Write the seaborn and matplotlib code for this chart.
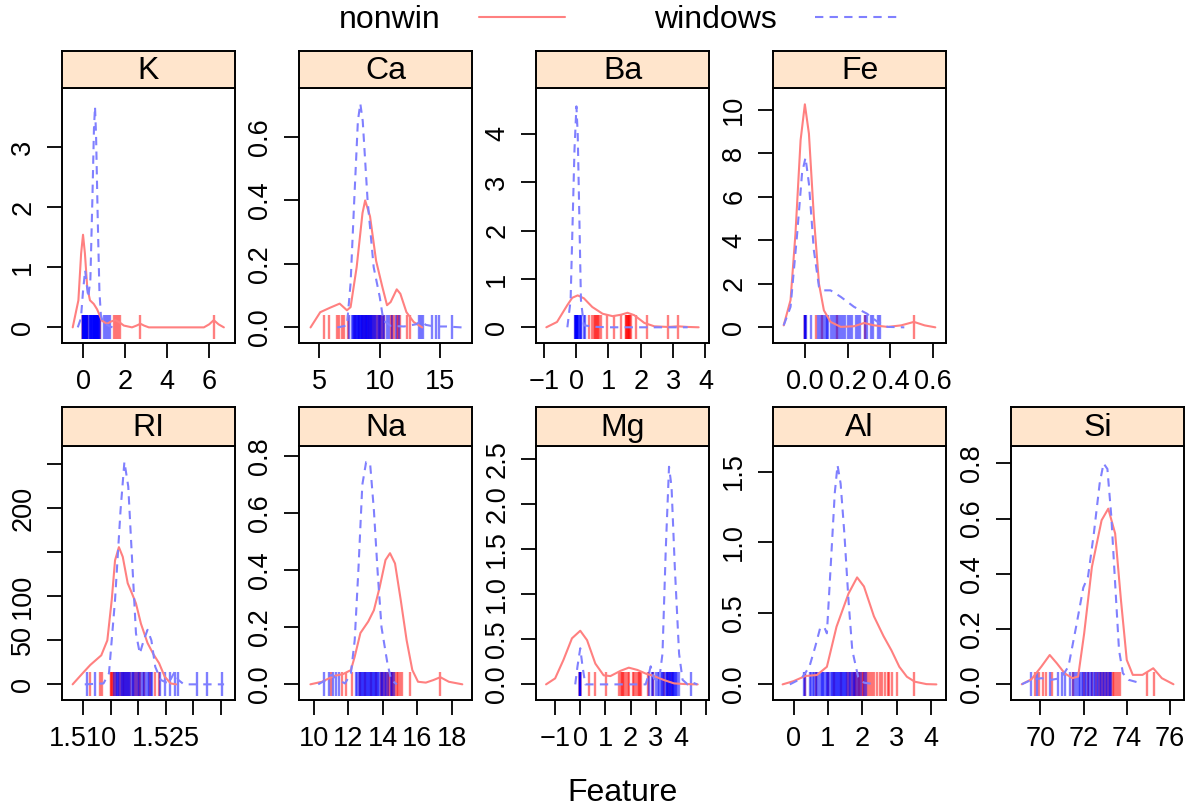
import numpy as np
import matplotlib
matplotlib.use("Agg")
import matplotlib.pyplot as plt
import seaborn as sns
from matplotlib.lines import Line2D

# density curves (x, density) and rug positions per class
K_x_nw = [-0.49, -0.22, -0.09, 0.0, 0.09, 0.2, 0.33, 0.51, 0.67, 0.9, 1.14, 1.35, 1.54, 1.75, 1.94, 2.33, 2.55, 2.73, 2.9, 3.13, 4.0, 5.0, 5.75, 6.0, 6.22, 6.45, 6.7]
K_y_nw = [0, 0.45, 1.23, 1.54, 1.23, 0.67, 0.45, 0.39, 0.3, 0.11, 0.06, 0.1, 0.12, 0.08, 0.03, 0.0, 0.03, 0.06, 0.03, 0.0, 0, 0, 0, 0.05, 0.12, 0.05, 0]
K_x_win = [-0.25, -0.1, 0.0, 0.1, 0.18, 0.25, 0.35, 0.45, 0.52, 0.57, 0.62, 0.7, 0.78, 0.85, 0.95, 1.1, 1.25, 1.4]
K_y_win = [0, 0.15, 0.6, 0.95, 0.7, 0.5, 0.8, 2.2, 3.3, 3.67, 3.2, 1.8, 0.6, 0.2, 0.08, 0.05, 0.02, 0]
K_rug_nw = [0.0, 0.0, 0.0, 0.03, 0.06, 0.08, 0.1, 0.12, 0.14, 0.17, 0.2, 0.6, 0.64, 0.67, 0.83, 1.46, 1.57, 1.68, 1.76, 2.7, 6.21]
K_rug_win = [-0.02, 0.0, 0.0, 0.02, 0.03, 0.05, 0.06, 0.08, 0.09, 0.1, 0.12, 0.13, 0.15, 0.16, 0.18, 0.19, 0.21,
             0.3, 0.32, 0.34, 0.36, 0.38, 0.4, 0.42, 0.44, 0.46, 0.48, 0.5, 0.51, 0.53, 0.54, 0.56, 0.57, 0.58,
             0.6, 0.61, 0.62, 0.64, 0.65, 0.66, 0.68, 0.69, 0.71, 0.73, 0.75, 0.77, 0.8, 1.0, 1.1, 1.19, 1.27]

Ca_x_nw = [4.3, 5.1, 5.9, 6.7, 7.3, 7.6, 8.1, 8.58, 8.8, 9.2, 9.7, 10.2, 10.6, 10.9, 11.4, 11.7, 12.2, 12.8, 13.5]
Ca_y_nw = [0, 0.048, 0.062, 0.075, 0.054, 0.064, 0.19, 0.36, 0.40, 0.35, 0.21, 0.13, 0.07, 0.08, 0.12, 0.106, 0.048, 0.017, 0]
Ca_x_win = [6.5, 7.3, 7.6, 7.9, 8.2, 8.4, 8.6, 9.0, 9.5, 10.0, 10.3, 10.9, 12.0, 13.0, 13.4, 13.8, 14.5, 15.5, 16.8]
Ca_y_win = [0, 0.006, 0.14, 0.40, 0.65, 0.705, 0.65, 0.40, 0.19, 0.096, 0.022, 0.005, 0.003, 0.01, 0.02, 0.008, 0.003, 0.003, 0]
Ca_rug_nw = [5.43, 5.79, 6.47, 6.65, 6.93, 7.08, 7.4, 8.0, 8.3, 8.5, 8.65, 8.8, 8.9, 9.0, 9.15, 9.3, 9.45, 9.6, 9.75, 9.9,
             10.05, 10.2, 10.35, 10.9, 11.05, 11.2, 11.4, 11.5, 11.65, 12.26, 12.53]
Ca_rug_win = [7.5, 7.74, 7.8, 7.86, 7.92, 7.98, 8.03, 8.08, 8.13, 8.18, 8.23, 8.28, 8.33, 8.38, 8.43, 8.48, 8.53, 8.58,
              8.63, 8.68, 8.73, 8.78, 8.83, 8.88, 8.93, 8.98, 9.03, 9.08, 9.14, 9.2, 9.26, 9.32, 9.38, 9.46, 9.55,
              9.64, 9.73, 9.82, 9.92, 10.02, 10.12, 10.24, 10.34, 10.6, 10.8, 11.0, 11.3, 11.6, 13.2, 13.4, 13.6,
              14.3, 14.6, 14.86, 15.96]

Ba_x_nw = [-0.92, -0.59, -0.27, -0.12, 0.05, 0.24, 0.5, 0.82, 1.13, 1.39, 1.59, 1.8, 2.11, 2.42, 2.84, 3.15, 3.46, 3.79]
Ba_y_nw = [0, 0.11, 0.46, 0.61, 0.66, 0.6, 0.42, 0.28, 0.23, 0.26, 0.30, 0.25, 0.09, 0.02, 0.007, 0.02, 0.007, 0]
Ba_x_win = [-0.27, -0.17, -0.09, -0.05, 0.01, 0.05, 0.1, 0.15, 0.24, 0.6, 1.0, 1.6, 2.2, 2.8, 3.15, 3.45]
Ba_y_win = [0, 0.56, 2.64, 3.67, 4.57, 4.0, 2.29, 0.56, 0.04, 0.01, 0.0, 0.0, 0.0, 0.0, 0.0, 0]
Ba_rug_nw = [0.0, 0.0, 0.39, 0.48, 0.54, 0.57, 0.61, 0.64, 0.67, 0.71, 0.76, 0.96, 1.17, 1.38, 1.53, 1.55, 1.57, 1.59,
             1.61, 1.63, 1.64, 1.67, 1.69, 1.85, 2.2, 2.83, 3.15]
Ba_rug_win = [-0.02, -0.015, -0.01, -0.005, 0.0, 0.0, 0.005, 0.01, 0.015, 0.02, 0.03, 0.04, 0.06, 0.09, 0.11, 0.14, 0.15, 0.24, 0.27]

Fe_x_nw = [-0.099, -0.067, -0.044, -0.02, 0, 0.019, 0.042, 0.066, 0.089, 0.12, 0.168, 0.23, 0.277, 0.324, 0.387, 0.45, 0.51, 0.56, 0.61]
Fe_y_nw = [0.09, 1.25, 4.3, 8.6, 10.25, 8.9, 5.1, 2.0, 0.78, 0.25, 0.02, 0.05, 0.2, 0.09, 0.02, 0.09, 0.25, 0.09, 0]
Fe_x_win = [-0.099, -0.067, -0.036, -0.013, 0.003, 0.019, 0.042, 0.066, 0.089, 0.12, 0.168, 0.23, 0.29, 0.34, 0.387, 0.465]
Fe_y_win = [0.09, 0.94, 4.3, 7.1, 7.8, 6.6, 3.55, 1.86, 1.7, 1.7, 1.4, 0.94, 0.63, 0.25, 0.02, 0]
Fe_rug_nw = [0.0, 0.0, 0.05, 0.08, 0.15, 0.28, 0.51]
Fe_rug_win = [0.0, 0.0, 0.0, 0.003, 0.03, 0.06, 0.07, 0.08, 0.09, 0.1, 0.105, 0.11, 0.12, 0.13, 0.14, 0.15, 0.16, 0.17,
              0.18, 0.19, 0.2, 0.21, 0.22, 0.24, 0.25, 0.26, 0.28, 0.29, 0.31, 0.32, 0.34, 0.35]

RI_x_nw = [1.5081, 1.5099, 1.5113, 1.5133, 1.5144, 1.5152, 1.5158, 1.5165, 1.5172, 1.5181, 1.5189, 1.5196, 1.5205,
           1.5217, 1.5227, 1.5238, 1.5248, 1.5259, 1.5269]
RI_y_nw = [0, 12.5, 22, 33, 50, 96, 141, 156, 145, 115, 103, 92, 69, 47, 35, 24, 9, 1, 0]
RI_x_win = [1.5103, 1.5137, 1.5147, 1.5158, 1.5168, 1.5175, 1.5182, 1.5189, 1.5196, 1.5203, 1.5210, 1.5217, 1.5224,
            1.5231, 1.5241, 1.5255, 1.5266, 1.5273, 1.5283, 1.5300, 1.5330, 1.5356]
RI_y_win = [0, 1, 12.5, 96, 198, 253, 225, 141, 58, 35, 50, 62, 50, 20, 5, 1, 14, 5, 0, 0, 0, 0]
RI_rug_nw = [1.51131, 1.51299, 1.51340, 1.51502, 1.51514, 1.51531, 1.51545, 1.51556, 1.5160, 1.5165, 1.5169, 1.5172,
             1.5175, 1.5178, 1.5181, 1.5185, 1.5190, 1.5194, 1.5198, 1.5201, 1.5204, 1.5210, 1.5222, 1.5231, 1.5237]
RI_rug_win = [1.5107, 1.5122, 1.5156, 1.5159, 1.5162, 1.5164, 1.5166, 1.5168, 1.5170, 1.5172, 1.5174, 1.5176, 1.5178,
              1.5180, 1.5182, 1.5184, 1.5186, 1.5188, 1.5190, 1.5193, 1.5196, 1.5199, 1.5202, 1.5205, 1.5208, 1.5211,
              1.5214, 1.5217, 1.5220, 1.5223, 1.5225, 1.5240, 1.5249, 1.5258, 1.5267, 1.5273, 1.5306, 1.5325, 1.5352]

Na_x_nw = [9.82, 10.49, 11.16, 11.71, 12.16, 12.38, 12.71, 13.16, 13.49, 13.82, 14.16, 14.42, 14.71, 15.04, 15.38,
           15.71, 16.04, 16.49, 16.93, 17.33, 17.82, 18.6]
Na_y_nw = [0, 0.009, 0.029, 0.036, 0.05, 0.097, 0.18, 0.22, 0.26, 0.34, 0.436, 0.46, 0.424, 0.296, 0.155, 0.05,
           0.009, 0.006, 0.015, 0.025, 0.009, 0]
Na_x_win = [10.27, 10.71, 11.04, 11.38, 11.82, 12.16, 12.38, 12.6, 12.82, 13.04, 13.27, 13.49, 13.71, 13.93, 14.27, 14.49, 14.82]
Na_y_win = [0, 0.015, 0.033, 0.018, 0.003, 0.039, 0.155, 0.41, 0.70, 0.78, 0.775, 0.61, 0.39, 0.20, 0.074, 0.015, 0]
Na_rug_nw = [11.03, 11.67, 11.87, 12.25, 12.7, 13.0, 13.3, 13.6, 13.88, 13.98, 14.1, 14.2, 14.3, 14.38, 14.45, 14.52,
             14.6, 14.7, 14.8, 14.9, 15.0, 15.13, 15.6, 17.29]
Na_rug_win = [10.62, 10.9, 11.1, 11.29, 11.45, 12.44, 12.52, 12.6, 12.66, 12.72, 12.78, 12.84, 12.9, 12.96, 13.02,
              13.08, 13.14, 13.2, 13.26, 13.32, 13.38, 13.44, 13.5, 13.56, 13.62, 13.68, 13.74, 13.8, 13.88, 13.96,
              14.04, 14.12, 14.2, 14.32, 14.45, 14.56, 14.65]

Mg_x_nw = [-1.36, -1, -0.67, -0.33, 0, 0.27, 0.6, 0.93, 1.2, 1.6, 1.93, 2.27, 2.6, 2.93, 3.33, 3.73, 4.13, 4.67]
Mg_y_nw = [0, 0.066, 0.27, 0.51, 0.594, 0.49, 0.23, 0.10, 0.092, 0.15, 0.185, 0.16, 0.12, 0.092, 0.048, 0.011, 0.004, 0]
Mg_x_win = [-0.2, -0.11, 0, 0.09, 0.2, 1.0, 2.0, 2.6, 2.73, 2.8, 2.93, 3.13, 3.27, 3.4, 3.53, 3.63, 3.76, 3.93, 4.07,
            4.27, 4.47, 4.65]
Mg_y_win = [0, 0.2, 0.4, 0.2, 0, 0, 0, 0, 0.12, 0.2, 0.066, 0.03, 0.34, 1.49, 2.41, 2.19, 1.30, 0.34, 0.05, 0, 0.02, 0]
Mg_rug_nw = [0.0, 0.0, 0.0, 0.0, 0.33, 0.6, 1.01, 1.53, 1.61, 1.67, 1.71, 1.75, 1.83, 1.88, 1.92, 2.08, 2.13, 2.2,
             2.28, 2.34, 2.39, 2.42, 2.68, 2.9, 3.34, 3.5, 3.66]
Mg_rug_win = [0.0, 0.0, 0.0, 0.0, 2.75, 2.85, 2.9, 3.0, 3.08, 3.15, 3.2, 3.25, 3.3, 3.35, 3.4, 3.43, 3.46, 3.49, 3.52,
              3.55, 3.58, 3.61, 3.64, 3.67, 3.7, 3.73, 3.76, 3.8, 3.85, 3.92, 4.42]

Al_x_nw = [-0.32, 0, 0.34, 0.68, 0.97, 1.25, 1.6, 1.85, 2.05, 2.34, 2.62, 2.85, 3.08, 3.3, 3.53, 3.87, 4.16]
Al_y_nw = [0, 0.023, 0.059, 0.066, 0.124, 0.406, 0.64, 0.754, 0.69, 0.48, 0.34, 0.24, 0.124, 0.054, 0.019, 0.002, 0]
Al_x_win = [-0.11, 0.23, 0.46, 0.63, 0.77, 0.89, 0.97, 1.08, 1.2, 1.28, 1.37, 1.48, 1.6, 1.71, 1.88, 2.05, 2.39]
Al_y_win = [0, 0.042, 0.124, 0.265, 0.394, 0.406, 0.36, 0.83, 1.35, 1.545, 1.415, 1.06, 0.59, 0.24, 0.054, 0.012, 0]
Al_rug_nw = [0.34, 0.66, 1.0, 1.19, 1.38, 1.56, 1.62, 1.71, 1.76, 1.8, 1.83, 1.87, 1.9, 1.94, 1.98, 2.02, 2.06, 2.1,
             2.17, 2.22, 2.27, 2.34, 2.42, 2.51, 2.58, 2.66, 2.74, 2.79, 2.88, 3.02, 3.5]
Al_rug_win = [0.29, 0.34, 0.47, 0.51, 0.56, 0.6, 0.65, 0.69, 0.75, 0.79, 0.83, 0.87, 0.9, 0.94, 0.98, 1.0, 1.04, 1.08,
              1.12, 1.15, 1.18, 1.21, 1.24, 1.27, 1.3, 1.33, 1.36, 1.39, 1.42, 1.45, 1.48, 1.51, 1.54, 1.57, 1.6,
              1.64, 1.68, 1.72, 1.76, 1.8, 1.85, 1.9, 1.96, 2.05, 2.12]

Si_x_nw = [69.13, 69.58, 70.04, 70.43, 70.76, 71.12, 71.48, 71.75, 72.03, 72.39, 72.84, 73.15, 73.47, 73.74, 74.01,
           74.29, 74.74, 75.24, 75.64, 76.18]
Si_y_nw = [0, 0.018, 0.064, 0.106, 0.076, 0.04, 0.022, 0.028, 0.184, 0.425, 0.594, 0.636, 0.546, 0.305, 0.088,
           0.034, 0.034, 0.058, 0.022, 0]
Si_x_win = [69.13, 69.58, 70.04, 70.49, 70.94, 71.3, 71.66, 71.99, 72.21, 72.48, 72.75, 72.93, 73.11, 73.29, 73.47,
            73.65, 73.83, 74.1, 74.65]
Si_y_win = [0, 0.016, 0.022, 0.016, 0.022, 0.064, 0.21, 0.35, 0.39, 0.546, 0.727, 0.80, 0.78, 0.61, 0.365, 0.124,
            0.04, 0.016, 0.004]
Si_rug_nw = [69.74, 69.94, 70.14, 70.26, 70.53, 71.52, 72.0, 72.2, 72.4, 72.6, 72.7, 72.8, 72.9, 73.0, 73.1, 73.2,
             73.29, 73.36, 73.44, 73.5, 73.58, 73.68, 74.96, 75.26]
Si_rug_win = [69.55, 69.84, 70.43, 70.83, 71.0, 71.15, 71.36, 71.5, 71.61, 71.71, 71.78, 71.85, 71.92, 71.99, 72.06,
              72.13, 72.2, 72.27, 72.34, 72.41, 72.48, 72.55, 72.62, 72.69, 72.76, 72.83, 72.9, 72.97, 73.04, 73.11,
              73.18, 73.24, 73.29]

curves = {
    "K": (K_x_nw, K_y_nw, K_x_win, K_y_win, K_rug_nw, K_rug_win),
    "Ca": (Ca_x_nw, Ca_y_nw, Ca_x_win, Ca_y_win, Ca_rug_nw, Ca_rug_win),
    "Ba": (Ba_x_nw, Ba_y_nw, Ba_x_win, Ba_y_win, Ba_rug_nw, Ba_rug_win),
    "Fe": (Fe_x_nw, Fe_y_nw, Fe_x_win, Fe_y_win, Fe_rug_nw, Fe_rug_win),
    "RI": (RI_x_nw, RI_y_nw, RI_x_win, RI_y_win, RI_rug_nw, RI_rug_win),
    "Na": (Na_x_nw, Na_y_nw, Na_x_win, Na_y_win, Na_rug_nw, Na_rug_win),
    "Mg": (Mg_x_nw, Mg_y_nw, Mg_x_win, Mg_y_win, Mg_rug_nw, Mg_rug_win),
    "Al": (Al_x_nw, Al_y_nw, Al_x_win, Al_y_win, Al_rug_nw, Al_rug_win),
    "Si": (Si_x_nw, Si_y_nw, Si_x_win, Si_y_win, Si_rug_nw, Si_rug_win),
}

M = "\u2212"
# axis settings: panel (row, col), xlim, ylim, xticks, xlabels, yticks, ylabels
axes_spec = {
    "K": (0, 0, (-1.0, 7.23), (-0.26, 3.98), [0, 2, 4, 6], ["0", "2", "4", "6"], [0, 1, 2, 3], ["0", "1", "2", "3"]),
    "Ca": (0, 1, (3.35, 17.6), (-0.049, 0.754), [5, 10, 15], ["5", "10", "15"],
           [0, 0.2, 0.4, 0.6], ["0.0", "0.2", "0.4", "0.6"]),
    "Ba": (0, 2, (-1.24, 4.11), (-0.325, 4.95), [-1, 0, 1, 2, 3, 4], [M + "1", "0", "1", "2", "3", "4"],
           [0, 1, 2, 3, 4], ["0", "1", "2", "3", "4"]),
    "Fe": (0, 3, (-0.149, 0.66), (-0.72, 11.0), [0, 0.2, 0.4, 0.6], ["0.0", "0.2", "0.4", "0.6"],
           [0, 2, 4, 6, 8, 10], ["0", "2", "4", "6", "8", "10"]),
    "RI": (1, 0, (1.50617, 1.53758), (-17.8, 271), [1.510, 1.515, 1.520, 1.525, 1.530, 1.535],
           ["1.510", "", "", "1.525", "", ""], [0, 50, 100, 150, 200, 250], ["0", "50", "100", "", "200", ""]),
    "Na": (1, 1, (9.16, 19.16), (-0.055, 0.836), [10, 12, 14, 16, 18], ["10", "12", "14", "16", "18"],
           [0, 0.2, 0.4, 0.6, 0.8], ["0.0", "0.2", "0.4", "0.6", "0.8"]),
    "Mg": (1, 2, (-1.76, 5.12), (-0.173, 2.64), [-1, 0, 1, 2, 3, 4, 5], [M + "1", "0", "1", "2", "3", "4", ""],
           [0, 0.5, 1, 1.5, 2, 2.5], ["0.0", "0.5", "1.0", "1.5", "2.0", "2.5"]),
    "Al": (1, 3, (-0.60, 4.44), (-0.11, 1.68), [0, 1, 2, 3, 4], ["0", "1", "2", "3", "4"],
           [0, 0.5, 1, 1.5], ["0.0", "0.5", "1.0", "1.5"]),
    "Si": (1, 4, (68.63, 76.67), (-0.057, 0.863), [70, 72, 74, 76], ["70", "72", "74", "76"],
           [0, 0.2, 0.4, 0.6, 0.8], ["0.0", "0.2", "0.4", "0.6", "0.8"]),
}

sns.set_style("ticks", {"axes.edgecolor": "black", "text.color": "black",
                        "xtick.color": "black", "ytick.color": "black", "axes.labelcolor": "black"})
plt.rcParams["font.family"] = ["Liberation Sans", "DejaVu Sans"]

W, H = 1188, 811
fig = plt.figure(figsize=(W / 100, H / 100), dpi=100)

col_left = [62, 299, 536, 773, 1011]
pw = 173
rows = [(88, 343, 51), (446, 700, 407)]  # plot top, plot bottom, strip top

line_nw = "#FF8080"
line_win = "#8080FF"
big = 23
small = 19.5

for name, (r, c, xl, yl, xt, xtl, yt, ytl) in axes_spec.items():
    top, bot, stop = rows[r]
    left = col_left[c]
    ax = fig.add_axes([left / W, 1 - bot / H, pw / W, (bot - top) / H])
    sax = fig.add_axes([left / W, 1 - top / H, pw / W, (top - stop) / H])
    sax.set_facecolor("#FFE5CC")
    sax.set_xticks([])
    sax.set_yticks([])
    for sp in sax.spines.values():
        sp.set_linewidth(1.4)
        sp.set_color("black")
    sax.text(0.5, 0.45, name, ha="center", va="center", fontsize=big, color="black",
             transform=sax.transAxes)

    xn, yn, xw, yw, rn, rw = curves[name]
    sns.lineplot(x=xn, y=yn, ax=ax, color=line_nw, lw=1.5, sort=False, estimator=None)
    sns.scatterplot(x=rn, y=np.zeros(len(rn)), ax=ax, marker="|", s=300, color="red",
                    alpha=0.5, linewidth=1.7)
    sns.lineplot(x=xw, y=yw, ax=ax, color=line_win, lw=1.5, sort=False, estimator=None)
    ax.lines[-1].set_dashes((4, 3))
    sns.scatterplot(x=rw, y=np.zeros(len(rw)), ax=ax, marker="|", s=300, color="blue",
                    alpha=0.5, linewidth=1.7)

    ax.set_xlim(*xl)
    ax.set_ylim(*yl)
    ax.set_xticks(xt, xtl)
    ax.set_yticks(yt, ytl)
    ax.set_xlabel("")
    ax.set_ylabel("")
    ax.tick_params(axis="both", direction="out", length=10.5, width=1.3, labelsize=small, pad=8,
                   colors="black")
    for lab in ax.get_yticklabels():
        lab.set_rotation(90)
        lab.set_va("center")
    for sp in ax.spines.values():
        sp.set_linewidth(1.4)
        sp.set_color("black")

handles = [Line2D([], [], color=line_nw, lw=1.5),
           Line2D([], [], color=line_win, lw=1.5, dashes=(4, 3))]
fig.legend(handles, ["nonwin", "windows"], ncol=2, markerfirst=False, frameon=False,
           loc="center", bbox_to_anchor=(0.522, 1 - 20 / H), fontsize=big,
           handlelength=2.7, handletextpad=1.2, columnspacing=2.8, labelcolor="black")

fig.text(0.524, 1 - 793 / H, "Feature", ha="center", va="center", fontsize=big, color="black")

fig.savefig("out.png", dpi=100)
